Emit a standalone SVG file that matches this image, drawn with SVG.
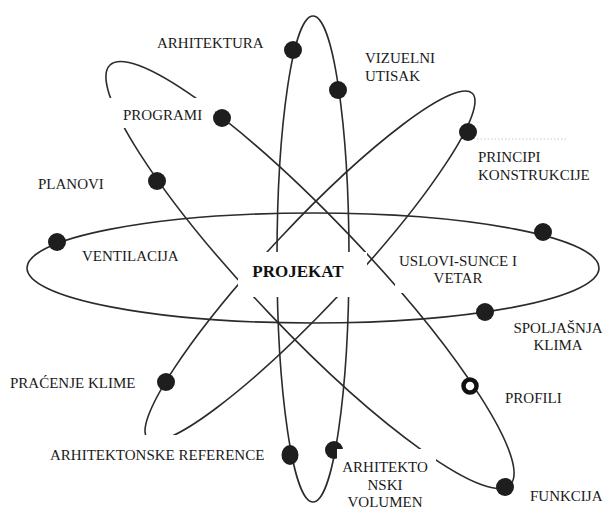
<svg xmlns="http://www.w3.org/2000/svg" width="607" height="511" viewBox="0 0 607 511">
<style>
.orb{fill:none;stroke:#2b2b2b;stroke-width:1.6}
.bg{fill:#fff;stroke:none}
.dot{fill:#1e1e1e}
.lbl{font-family:"Liberation Serif","Times New Roman",serif;font-size:15px;fill:#1a1a1a}
.mid{text-anchor:middle}
.main{font-family:"Liberation Serif","Times New Roman",serif;font-size:17px;font-weight:bold;fill:#111;text-anchor:middle}
</style>
<rect width="607" height="511" fill="#fff"/>
<g id="connectors">
<ellipse class="orb" cx="313" cy="268" rx="286" ry="55"/>
<ellipse class="orb" cx="313" cy="259" rx="36" ry="243"/>
<ellipse class="orb" cx="310" cy="275" rx="290" ry="56" transform="rotate(46.4 310 275)"/>
<ellipse class="orb" cx="310" cy="266" rx="237" ry="41" transform="rotate(-46.8 310 266)"/>
</g>
<g id="label-backgrounds">
<rect class="bg" x="238" y="252" width="129" height="45"/>
<rect class="bg" x="100" y="98" width="115" height="30"/>
<rect class="bg" x="45" y="435" width="237" height="35"/>
<rect class="bg" x="395" y="243" width="140" height="50"/>
<line x1="477" y1="139" x2="567" y2="139" stroke="#c8c8c8" stroke-width="1" stroke-dasharray="1.5 2"/>
</g>
<g id="projekat"><text class="main" x="298" y="277">PROJEKAT</text></g>
<g id="arhitektura"><circle class="dot" cx="293" cy="50" r="9"/><text class="lbl" x="157" y="48">ARHITEKTURA</text></g>
<g id="vizuelni-utisak"><circle class="dot" cx="338" cy="90" r="9"/><text class="lbl" x="365" y="63">VIZUELNI</text><text class="lbl" x="365" y="81">UTISAK</text></g>
<g id="programi"><circle class="dot" cx="222" cy="118" r="9"/><text class="lbl" x="123" y="120">PROGRAMI</text></g>
<g id="planovi"><circle class="dot" cx="157" cy="181" r="9"/><text class="lbl" x="38" y="189">PLANOVI</text></g>
<g id="principi-konstrukcije"><circle class="dot" cx="468" cy="132" r="9"/><text class="lbl" x="478" y="162">PRINCIPI</text><text class="lbl" x="478" y="180">KONSTRUKCIJE</text></g>
<g id="ventilacija"><circle class="dot" cx="57" cy="242" r="9"/><text class="lbl" x="82" y="261">VENTILACIJA</text></g>
<g id="uslovi"><circle class="dot" cx="543" cy="232" r="9"/><text class="lbl mid" x="458" y="266">USLOVI-SUNCE I</text><text class="lbl mid" x="458" y="283">VETAR</text></g>
<g id="spoljasnja-klima"><circle class="dot" cx="485" cy="312" r="9"/><text class="lbl mid" x="558" y="333">SPOLJAŠNJA</text><text class="lbl mid" x="558" y="350">KLIMA</text></g>
<g id="pracenje-klime"><circle class="dot" cx="166" cy="382" r="9"/><text class="lbl" x="10" y="388">PRAĆENJE KLIME</text></g>
<g id="profili"><circle cx="470" cy="386" r="6.5" fill="#fff" stroke="#111" stroke-width="4.5"/><text class="lbl" x="505" y="403">PROFILI</text></g>
<g id="arhitektonske-reference"><ellipse class="dot" cx="290" cy="455" rx="8.5" ry="10"/><text class="lbl" x="50" y="460">ARHITEKTONSKE REFERENCE</text></g>
<g id="arhitektonski-volumen"><circle class="dot" cx="334" cy="450" r="9"/><rect class="bg" x="337" y="449" width="99" height="62"/><text class="lbl mid" x="385" y="472">ARHITEKTO</text><text class="lbl mid" x="385" y="490">NSKI</text><text class="lbl mid" x="385" y="507">VOLUMEN</text></g>
<g id="funkcija"><circle class="dot" cx="505" cy="487" r="9"/><text class="lbl" x="530" y="501">FUNKCIJA</text></g>
</svg>
